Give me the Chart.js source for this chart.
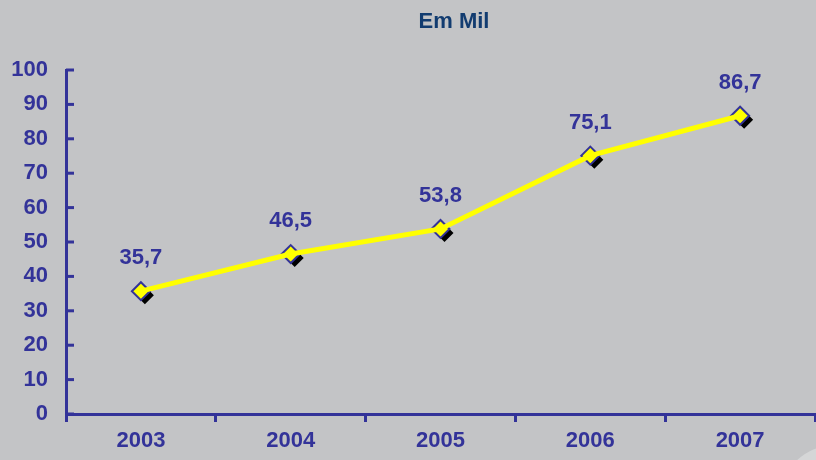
<!DOCTYPE html>
<html>
<head>
<meta charset="utf-8">
<script src="https://cdn.jsdelivr.net/npm/chart.js@4/dist/chart.umd.min.js"></script>
<style>
  html, body { margin: 0; padding: 0; background: #c3c4c6; overflow: hidden; }
  #wrap { width: 816px; height: 460px; position: relative; }
</style>
</head>
<body>
<div id="wrap"><canvas id="chart"></canvas></div>
<script>
const years = ['2003', '2004', '2005', '2006', '2007'];
const values = [35.7, 46.5, 53.8, 75.1, 86.7];
const labelsText = ['35,7', '46,5', '53,8', '75,1', '86,7'];
const yTicks = [0, 10, 20, 30, 40, 50, 60, 70, 80, 90, 100];

const axisColor = '#333399';
const family = '"Liberation Sans", Arial, sans-serif';

// title, inner y ticks, marker shadows and value labels
const extras = {
    id: 'extras',
    beforeDraw(chart) {
        const ctx = chart.ctx;
        ctx.save();
        ctx.fillStyle = '#d5d6d7';
        ctx.beginPath();
        ctx.arc(835, 500, 55, 0, Math.PI * 2);
        ctx.fill();
        ctx.restore();
    },
    beforeDatasetDraw(chart, args) {
        if (args.index !== 1) return;
        const ctx = chart.ctx;
        const meta = chart.getDatasetMeta(1);
        ctx.save();
        ctx.fillStyle = '#000';
        meta.data.forEach(p => {
            const x = p.x + 4, y = p.y + 4, r = 9;
            ctx.beginPath();
            ctx.moveTo(x, y - r);
            ctx.lineTo(x + r, y);
            ctx.lineTo(x, y + r);
            ctx.lineTo(x - r, y);
            ctx.closePath();
            ctx.fill();
        });
        ctx.restore();
    },
    afterDraw(chart) {
        const ctx = chart.ctx;
        const ys = chart.scales.y;
        const left = chart.chartArea.left;
        ctx.save();
        ctx.strokeStyle = axisColor;
        ctx.lineWidth = 3;
        yTicks.forEach(v => {
            const y = ys.getPixelForValue(v);
            ctx.beginPath();
            ctx.moveTo(left, y);
            ctx.lineTo(left + 8, y);
            ctx.stroke();
        });
        ctx.fillStyle = '#123c70';
        ctx.font = 'bold 22px ' + family;
        ctx.textAlign = 'center';
        ctx.textBaseline = 'middle';
        ctx.fillText('Em Mil', 454, 22);
        ctx.fillStyle = axisColor;
        ctx.font = 'bold 22px ' + family;
        const meta = chart.getDatasetMeta(1);
        meta.data.forEach((p, i) => {
            ctx.fillText(labelsText[i], p.x, p.y - 33);
        });
        ctx.restore();
    }
};

new Chart(document.getElementById('chart'), {
    type: 'line',
    data: {
        labels: years,
        datasets: [{
            data: values,
            borderColor: '#ffff00',
            borderWidth: 5,
            pointRadius: 0,
            tension: 0
        }, {
            data: values,
            showLine: false,
            pointStyle: 'rectRot',
            pointRadius: 9,
            pointBackgroundColor: '#ffff00',
            pointBorderColor: '#333399',
            pointBorderWidth: 2
        }]
    },
    options: {
        responsive: true,
        maintainAspectRatio: false,
        animation: false,
        layout: { autoPadding: false, padding: { top: 70, right: 1, left: 0, bottom: 0 } },
        plugins: {
            legend: { display: false },
            tooltip: { enabled: false },
            title: { display: false }
        },
        scales: {
            x: {
                offset: true,
                grid: {
                    offset: true,
                    drawOnChartArea: false,
                    color: axisColor,
                    lineWidth: 3,
                    tickLength: 8
                },
                border: { color: axisColor, width: 3 },
                ticks: { color: axisColor, font: { family: family, size: 22, weight: 'bold' }, padding: 6 },
                afterFit(scale) {
                    scale.height = 46;
                    scale.paddingLeft = 0;
                    scale.paddingRight = 0;
                }
            },
            y: {
                min: 0,
                max: 100,
                grid: { display: true, drawOnChartArea: false, drawTicks: false },
                border: { color: axisColor, width: 3 },
                ticks: {
                    stepSize: 10,
                    color: axisColor,
                    padding: 18,
                    font: { family: family, size: 22, weight: 'bold' }
                },
                afterFit(scale) {
                    scale.width = 66;
                    scale.paddingTop = 0;
                    scale.paddingBottom = 0;
                }
            }
        }
    },
    plugins: [extras]
});
</script>
</body>
</html>
